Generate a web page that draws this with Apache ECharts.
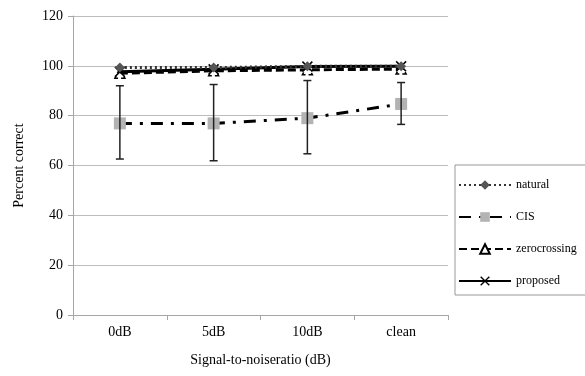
<!DOCTYPE html>
<html><head><meta charset="utf-8">
<script src="https://cdn.jsdelivr.net/npm/echarts@6/dist/echarts.min.js"></script>
<style>html,body{margin:0;padding:0;background:#fff}#c{width:585px;height:376px}</style>
</head><body><div id="c"></div>
<script>
const categories = ['0dB', '5dB', '10dB', 'clean'];
const natural = [99.3, 99.3, 99.8, 99.8];
const cis = [76.9, 76.9, 79.0, 84.7];
const cisLow = [62.6, 61.9, 64.7, 76.5];
const cisHigh = [92.0, 92.5, 94.1, 93.3];
const zerocrossing = [97.0, 98.0, 98.4, 98.7];
const proposed = [97.6, 98.6, 99.7, 99.8];
const yTicks = [0, 20, 40, 60, 80, 100, 120];

const serif = 'Liberation Serif';
const xPath = 'path://M0,1 L1,0 L5,4 L9,0 L10,1 L6,5 L10,9 L9,10 L5,6 L1,10 L0,9 L4,5 Z';

const chart = echarts.init(document.getElementById('c'));
chart.setOption({
  animation: false,
  grid: {left: 73, right: 137, top: 16, bottom: 61},
  legend: {
    orient: 'vertical', left: 455, top: 165, width: 200,
    padding: [14, 60, 8, 3], itemGap: 20,
    borderColor: '#999', borderWidth: 1,
    itemWidth: 52, itemHeight: 12,
    textStyle: {fontFamily: serif, fontSize: 12, color: '#000'},
    data: ['natural', 'CIS', 'zerocrossing', 'proposed']
  },
  xAxis: {
    type: 'category', data: categories, boundaryGap: true,
    name: 'Signal-to-noiseratio (dB)', nameLocation: 'middle', nameGap: 38,
    nameTextStyle: {fontFamily: serif, fontSize: 14, color: '#000'},
    axisLine: {lineStyle: {color: '#a6a6a6', width: 1}},
    axisTick: {show: true, alignWithLabel: false, length: 5, lineStyle: {color: '#a6a6a6'}},
    axisLabel: {fontFamily: serif, fontSize: 14, color: '#000', margin: 10}
  },
  yAxis: {
    type: 'value', min: 0, max: 120, interval: 20,
    name: 'Percent correct', nameLocation: 'middle', nameGap: 47,
    nameTextStyle: {fontFamily: serif, fontSize: 14, color: '#000'},
    axisLine: {show: true, lineStyle: {color: '#a6a6a6'}},
    axisTick: {show: true, length: 5, lineStyle: {color: '#a6a6a6'}},
    axisLabel: {fontFamily: serif, fontSize: 14, color: '#000', margin: 10,
      formatter: v => yTicks.includes(v) ? String(v) : ''},
    splitLine: {lineStyle: {color: '#bdbdbd', width: 1}}
  },
  series: [
    {
      name: 'CIS', type: 'line', data: cis, z: 2,
      lineStyle: {color: '#000', width: 3, type: [12, 8, 3, 8]},
      symbol: 'rect', symbolSize: 12,
      itemStyle: {color: '#b3b3b3', borderColor: '#999', borderWidth: 0}
    },
    {
      name: 'CIS err', type: 'custom', z: 3,
      data: categories.map((c, i) => [i, cisLow[i], cisHigh[i]]),
      renderItem: function (params, api) {
        const i = api.value(0);
        const lo = api.coord([i, api.value(1)]);
        const hi = api.coord([i, api.value(2)]);
        const hw = 4;
        const st = {stroke: '#222', lineWidth: 1.5};
        return {type: 'group', children: [
          {type: 'line', shape: {x1: lo[0], y1: lo[1], x2: hi[0], y2: hi[1]}, style: st},
          {type: 'line', shape: {x1: lo[0]-hw, y1: lo[1], x2: lo[0]+hw, y2: lo[1]}, style: st},
          {type: 'line', shape: {x1: hi[0]-hw, y1: hi[1], x2: hi[0]+hw, y2: hi[1]}, style: st}
        ]};
      }
    },
    {
      name: 'zerocrossing', type: 'line', data: zerocrossing, z: 4,
      lineStyle: {color: '#000', width: 3, type: [8, 4]},
      symbol: 'triangle', symbolSize: 10,
      itemStyle: {color: '#fff', borderColor: '#000', borderWidth: 1.5, borderType: 'dashed'}
    },
    {
      name: 'proposed', type: 'line', data: proposed, z: 5,
      lineStyle: {color: '#000', width: 3, type: 'solid'},
      symbol: xPath, symbolSize: 11,
      itemStyle: {color: '#000'}
    },
    {
      name: 'natural', type: 'line', data: natural, z: 6,
      lineStyle: {color: '#333', width: 3, type: [2, 3]},
      symbol: 'diamond', symbolSize: 10,
      itemStyle: {color: '#555'}
    }
  ]
});
</script>
</body></html>
